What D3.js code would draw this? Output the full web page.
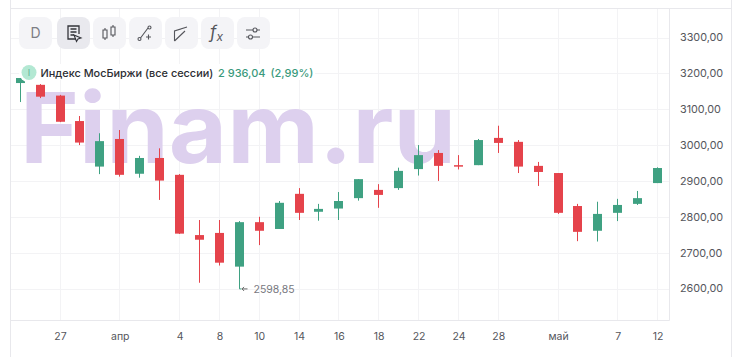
<!DOCTYPE html>
<html><head><meta charset="utf-8">
<script src="https://cdn.jsdelivr.net/npm/d3@7"></script>
<style>html,body{margin:0;padding:0;background:#fff;overflow:hidden}svg{display:block}text{font-family:Inter,"Noto Sans",sans-serif}</style>
</head><body><svg id="c" width="742" height="357"></svg>
<script>
const dates=["03-25","03-26","03-27","03-28","03-31","04-01","04-02","04-03","04-04","04-07","04-08","04-09","04-10","04-11","04-14","04-15","04-16","04-17","04-18","04-21","04-22","04-23","04-24","04-25","04-28","04-29","04-30","05-01","05-05","05-06","05-07","05-08","05-12"];
const opens =[3173,3168,3138,3067,2940,3017,2920,2964,2917,2749,2755,2661,2785,2766,2864,2814,2823,2852,2875,2880,2933,2978,2944,2944,3020,3009,2942,2922,2830,2761,2811,2836,2894];
const closes=[3187,3135,3065,3007,3011,2917,2964,2901,2753,2736,2672,2785,2761,2839,2811,2822,2844,2905,2861,2928,2972,2942,2942,3014,3006,2940,2925,2811,2758,2808,2833,2852,2936];
const highs =[3187,3170,3140,3081,3033,3042,2970,2991,2919,2791,2791,2788,2800,2844,2880,2836,2869,2905,2891,2937,3000,2986,2972,3017,3054,3014,2953,2922,2836,2842,2850,2872,2938];
const lows  =[3120,3131,3064,3000,2919,2912,2909,2847,2752,2616,2664,2598.85,2721,2766,2791,2789,2791,2845,2825,2875,2915,2900,2932,2944,2978,2922,2886,2808,2732,2731,2788,2833,2894];
const priceTicks=[2600,2700,2800,2900,3000,3100,3200,3300];
const timeTickDates=["03-27","04-01","04-04","04-08","04-10","04-14","04-16","04-18","04-22","04-24","04-28","05-01","05-07","05-12"];
const timeTickLabels=["27","апр","4","8","10","14","16","18","22","24","28","май","7","12"];
const toolNames=["D","","","","","",""];
const minLabel="2598,85";
const legendName="Индекс МосБиржи (все сессии)";
const legendValue="2 936,04";
const legendChange="(2,99%)";
const watermark="Finam.ru";

const RED="#e5434b",GREEN="#3fa182",GRID="#f3f3f5",LINE="#e8e8ec",TXT="#55565c";
const svg=d3.select("#c");
const x=d3.scalePoint().domain(dates).range([20.2,657.6]);
const y=d3.scaleLinear().domain([2600,3300]).range([288.5,37.5]);
const px=d=>Math.round(x(d)-.5)+.5;

// frame
const frame=svg.append("g").attr("fill","none").attr("stroke",LINE);
frame.append("path").attr("d","M10.5,0V357M10.5,8.5H731.5M731.5,0V357M669.5,8.5V320.5M10.5,320.5H669.5");

// grid
const grid=svg.append("g").attr("stroke",GRID);
grid.selectAll("line.h").data(priceTicks).join("line").attr("x1",11).attr("x2",669)
  .attr("y1",d=>Math.round(y(d))+.5).attr("y2",d=>Math.round(y(d))+.5);
grid.selectAll("line.v").data(timeTickDates).join("line").attr("y1",9).attr("y2",320)
  .attr("x1",px).attr("x2",px);

// watermark
svg.append("text").attr("x",20).attr("y",163).attr("font-size",98).attr("font-weight",700)
  .attr("fill","#ddd0ee").attr("textLength",436).attr("lengthAdjust","spacingAndGlyphs").text(watermark);

// axes
const ay=d3.axisRight(y).tickValues(priceTicks).tickSize(0).tickPadding(0)
  .tickFormat(d=>d.toFixed(2).replace(".",","));
const gy=svg.append("g").attr("transform","translate(680,0)").call(ay);
gy.select(".domain").remove();
gy.selectAll("text").attr("font-size",10.8).attr("fill",TXT).attr("font-family","Inter");
const labelOf=new Map(timeTickDates.map((d,i)=>[d,timeTickLabels[i]]));
const ax=d3.axisBottom(x).tickValues(timeTickDates).tickSize(0).tickPadding(0).tickFormat(d=>labelOf.get(d));
const gx=svg.append("g").attr("transform","translate(0,333)").call(ax);
gx.select(".domain").remove();
gx.selectAll("text").attr("font-size",10.5).attr("fill",TXT).attr("font-family","Inter");

// candles
const idx=d3.range(dates.length);
const col=i=>closes[i]>=opens[i]?GREEN:RED;
const cg=svg.append("g");
cg.selectAll("line").data(idx).join("line")
  .attr("x1",i=>px(dates[i])).attr("x2",i=>px(dates[i]))
  .attr("y1",i=>y(highs[i])).attr("y2",i=>y(lows[i])).attr("stroke",col);
cg.selectAll("rect").data(idx).join("rect")
  .attr("x",i=>px(dates[i])-4.5).attr("width",9)
  .attr("y",i=>y(Math.max(opens[i],closes[i])))
  .attr("height",i=>Math.max(1.5,Math.abs(y(opens[i])-y(closes[i]))))
  .attr("fill",col);

// min label
const mi=lows.indexOf(d3.min(lows));
const mx=px(dates[mi]),my=y(lows[mi]);
svg.append("path").attr("d",`M${mx+8},${my}H${mx+2.5}m2,-2l-2,2l2,2`).attr("fill","none").attr("stroke","#666");
svg.append("line").attr("x1",mx).attr("x2",mx+2).attr("y1",my).attr("y2",my).attr("stroke",GREEN);
svg.append("text").attr("x",mx+14).attr("y",my+4).attr("font-size",10.5).attr("fill","#77787e").text(minLabel);

// legend
svg.append("rect").attr("x",34).attr("y",64).attr("width",281).attr("height",16).attr("rx",3).attr("fill","#fff");
svg.append("circle").attr("cx",29).attr("cy",72.5).attr("r",10).attr("fill","#fff");
svg.append("circle").attr("cx",29).attr("cy",72.5).attr("r",7.5).attr("fill","#b3e8d3");
svg.append("text").attr("x",29).attr("y",76).attr("text-anchor","middle").attr("font-size",9).attr("fill","#5fb595").text("I");
svg.append("text").attr("x",40.5).attr("y",77).attr("font-size",10.9).attr("fill","#2d2e33").attr("font-weight",500).text(legendName);
svg.append("text").attr("x",218).attr("y",77).attr("font-size",11).attr("fill","#3a9a7c").attr("font-weight",500).text(legendValue);
svg.append("text").attr("x",270.5).attr("y",77).attr("font-size",11).attr("fill","#3a9a7c").attr("font-weight",500).text(legendChange);

// toolbar
const btnX=[19,57,93,129,165,201,237];
const tb=svg.append("g");
tb.selectAll("rect").data(btnX).join("rect").attr("x",d=>d).attr("y",17).attr("width",33).attr("height",32).attr("rx",8)
  .attr("fill",(d,i)=>i==1?"#e9e9ee":"#f4f4f7");
tb.append("text").attr("x",35.5).attr("y",38).attr("text-anchor","middle").attr("font-size",14).attr("fill","#7d7e85").text(toolNames[0]);
const ic=tb.append("g").attr("fill","none").attr("stroke","#55565c").attr("stroke-width",1.1);
ic.append("path").attr("d","M76,39H68V26H79V34M70.5,29H76.5M70.5,32H76.5M70.5,35H74").attr("stroke","#33343a").attr("stroke-width",1.3);
ic.append("path").attr("d","M74,35L81,38L78,39L76.5,41.5Z").attr("stroke","#33343a");
ic.append("path").attr("d","M103,30h4v8h-4zM105,28v2M105,38v2M111,27h4v8h-4zM113,25v2M113,35v2");
ic.append("path").attr("d","M140.5,38L148,28M146,37h5M148.5,34.5v5");
ic.append("circle").attr("cx",139.5).attr("cy",39).attr("r",1.5);
ic.append("circle").attr("cx",149.5).attr("cy",27.5).attr("r",1.5);
ic.append("path").attr("d","M174.5,41V31L187,27M174.5,41L185,31M174.5,31L181,29");
tb.append("text").attr("x",210).attr("y",38).attr("font-family","Liberation Serif").attr("font-style","italic").attr("font-size",17).attr("fill","#55565c").text("f");
tb.append("text").attr("x",216.5).attr("y",41).attr("font-family","Liberation Serif").attr("font-style","italic").attr("font-size",12).attr("fill","#55565c").text("x");
ic.append("path").attr("d","M246,30H260M246,37H260");
ic.selectAll("circle.k").data([[255,30],[250.5,37]]).join("circle").attr("cx",d=>d[0]).attr("cy",d=>d[1]).attr("r",2).attr("fill","#f4f4f7");
</script></body></html>
